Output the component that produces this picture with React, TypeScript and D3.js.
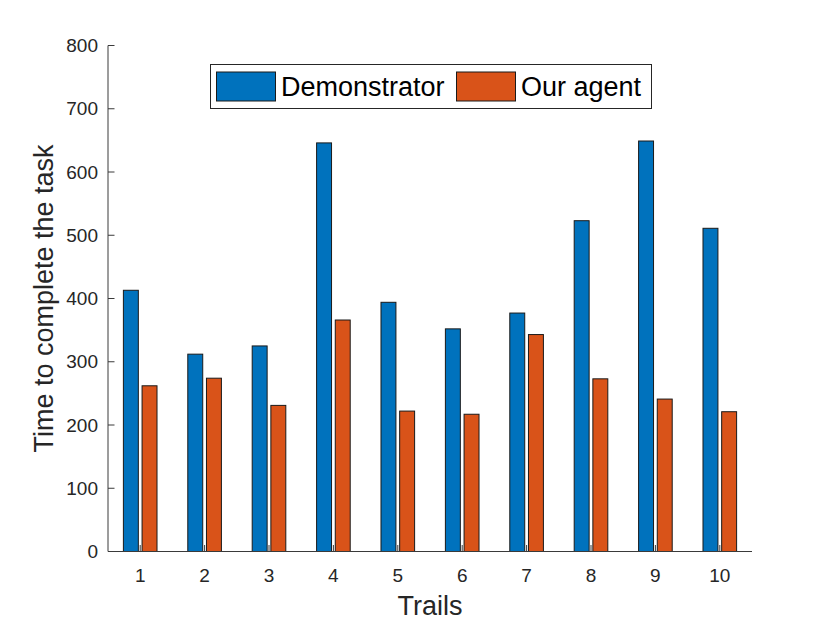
import * as d3 from "d3";

const trials = ["1", "2", "3", "4", "5", "6", "7", "8", "9", "10"];
const seriesNames = ["Demonstrator", "Our agent"];
const demonstrator = [413, 312, 325, 646, 394, 352, 377, 523, 649, 511];
const ourAgent = [262, 274, 231, 366, 222, 217, 343, 273, 241, 221];
const yTicks = [0, 100, 200, 300, 400, 500, 600, 700, 800];
const colors = ["#0072BD", "#D95319"];

const width = 830;
const height = 623;
const margin = { top: 45.5, right: 78, bottom: 71.5, left: 108 };
const font = "'Liberation Sans', Arial, Helvetica, sans-serif";
const axisColor = "#3a3a3a";

export default function App() {
  const x = d3.scaleBand<string>().domain(trials).range([margin.left, width - margin.right]).padding(0);
  const inner = d3
    .scaleBand<string>()
    .domain(seriesNames)
    .range([x.bandwidth() * 0.239, x.bandwidth() * 0.761])
    .paddingInner(0.2)
    .paddingOuter(0);
  const y = d3.scaleLinear().domain([0, 800]).range([height - margin.bottom, margin.top]);
  const values = [demonstrator, ourAgent];
  const x0 = margin.left;
  const x1 = width - margin.right;
  const yBase = y(0);

  return (
    <svg
      width={width}
      height={height}
      style={{ position: "absolute", left: 0, top: 0, background: "#fff" }}
      fontFamily={font}
    >
      {seriesNames.map((name, s) =>
        trials.map((t, i) => (
          <rect
            key={`${name}-${t}`}
            x={(x(t) ?? 0) + (inner(name) ?? 0)}
            y={y(values[s][i])}
            width={inner.bandwidth()}
            height={yBase - y(values[s][i])}
            fill={colors[s]}
            stroke="#1a1a1a"
            strokeWidth={1}
          />
        )),
      )}

      {/* axes */}
      <line x1={x0} x2={x0} y1={margin.top} y2={yBase} stroke={axisColor} strokeWidth={1} />
      <line x1={x0} x2={x1} y1={yBase} y2={yBase} stroke={axisColor} strokeWidth={1} />
      {yTicks.map((v) => (
        <g key={v}>
          <line x1={x0} x2={x0 + 6.5} y1={y(v)} y2={y(v)} stroke={axisColor} strokeWidth={1} />
          <text
            x={x0 - 10}
            y={y(v)}
            dy="0.35em"
            textAnchor="end"
            fontSize={19}
            fill="#262626"
          >
            {v}
          </text>
        </g>
      ))}
      {trials.map((t) => {
        const cx = (x(t) ?? 0) + x.bandwidth() / 2;
        return (
          <g key={t}>
            <line x1={cx} x2={cx} y1={yBase} y2={yBase - 6.5} stroke={axisColor} strokeWidth={1} />
            <text x={cx} y={yBase + 30} textAnchor="middle" fontSize={19} fill="#262626">
              {t}
            </text>
          </g>
        );
      })}

      <text x={(x0 + x1) / 2} y={615} textAnchor="middle" fontSize={27} fill="#262626">
        Trails
      </text>
      <text
        transform={`translate(53,${(margin.top + yBase) / 2}) rotate(-90)`}
        textAnchor="middle"
        fontSize={27}
        fill="#262626"
      >
        Time to complete the task
      </text>

      {/* legend */}
      <rect x={210.5} y={64.5} width={441} height={44} fill="#fff" stroke="#262626" strokeWidth={1} />
      <rect x={216.5} y={72} width={59} height={29} fill={colors[0]} stroke="#1a1a1a" strokeWidth={1} />
      <text x={281} y={96} fontSize={27} fill="#000">
        {seriesNames[0]}
      </text>
      <rect x={456.5} y={72} width={59} height={29} fill={colors[1]} stroke="#1a1a1a" strokeWidth={1} />
      <text x={521} y={96} fontSize={27} fill="#000">
        {seriesNames[1]}
      </text>
    </svg>
  );
}
